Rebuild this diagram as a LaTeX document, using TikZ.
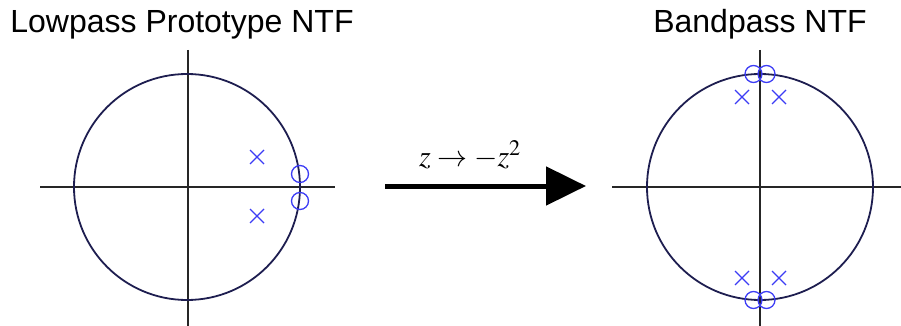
\documentclass[tikz,border=0pt]{standalone}
\usepackage{mathptmx}
\usepackage{fontspec}
\setmainfont{Liberation Sans}
\usetikzlibrary{arrows.meta}

\definecolor{rimcol}{RGB}{30,30,80}
\definecolor{pzcol}{RGB}{60,60,245}

\begin{document}
\begin{tikzpicture}[
    x=1pt,y=-1pt,
    title/.style={font=\fontsize{32}{36}\selectfont,anchor=base},
    axis/.style={line width=1.1pt,black!85},
    rim/.style={line width=1.8pt,rimcol},
    zero/.style={draw=pzcol,line width=1.3pt,circle,minimum size=17pt,inner sep=0pt},
    pole/.style={pzcol,line width=1.3pt},
    map/.style={-{Triangle[length=40pt,width=38pt]},line width=5pt}
  ]
    \useasboundingbox (0,0) rectangle (901,326);

    % lowpass prototype
    \node[title] (lpT) at (182,33) {Lowpass Prototype NTF};
    \draw[axis] (40,187) -- (335,187);
    \draw[axis] (188,50) -- (188,326);
    \draw[rim] (187,187) circle[radius=113];
    \node[zero] (lpZa) at (300,174) {};
    \node[zero] (lpZb) at (300,201) {};
    \foreach \px/\py in {257/157, 257/216}
      \draw[pole] (\px-7,\py-7) -- (\px+7,\py+7) (\px-7,\py+7) -- (\px+7,\py-7);

    % mapping
    \coordinate (mapA) at (385,186);
    \coordinate (mapB) at (586,186);
    \draw[map] (mapA) -- (mapB);
    \node[font=\fontsize{30}{34}\selectfont,anchor=base] (mapL) at (470,166) {$z\rightarrow -z^2$};

    % bandpass
    \node[title] (bpT) at (760,33) {Bandpass NTF};
    \draw[axis] (612,187) -- (901,187);
    \draw[axis] (760,50) -- (760,326);
    \draw[rim] (760,187) circle[radius=113];
    \foreach \zx/\zy in {753.5/74, 766.5/74, 753.5/300, 766.5/300}
      \node[zero] at (\zx,\zy) {};
    \foreach \px/\py in {742/97, 779/97, 742/278, 779/278}
      \draw[pole] (\px-7,\py-7) -- (\px+7,\py+7) (\px-7,\py+7) -- (\px+7,\py-7);
  \end{tikzpicture}
\end{document}
